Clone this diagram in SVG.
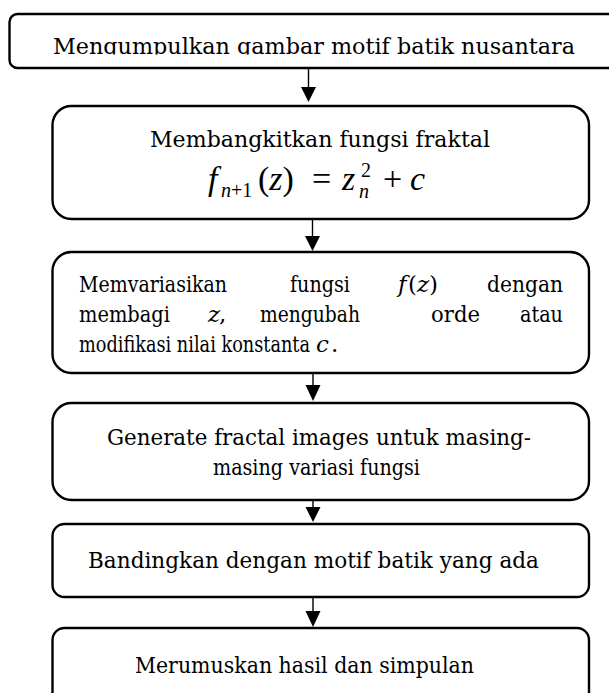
<svg xmlns="http://www.w3.org/2000/svg" width="609" height="693" viewBox="0 0 609 693">
<style>
.box{fill:#fff;stroke:#000;stroke-width:2.4}
.t{font-family:"DejaVu Serif","Liberation Serif",serif;font-size:23px;fill:#000}
.m{font-family:"Liberation Serif","Times New Roman",serif;fill:#000}
.i{font-style:italic}
.ln{stroke:#000;stroke-width:1.4;fill:none}
.ah{fill:#000}
</style>
<defs>
<clipPath id="clipTop"><rect x="0" y="0" width="609" height="54.5"/></clipPath>
</defs>
<rect width="609" height="693" fill="#fff"/>
<g id="node1">
<rect class="box" x="9.5" y="14" width="620" height="54" rx="8"/>
<text class="t" x="53" y="54" textLength="522" lengthAdjust="spacingAndGlyphs" clip-path="url(#clipTop)">Mengumpulkan gambar motif batik nusantara</text>
</g>
<g id="node2">
<rect class="box" x="52.5" y="106" width="536.5" height="113" rx="19"/>
<text class="t" x="150" y="147" textLength="340" lengthAdjust="spacingAndGlyphs">Membangkitkan fungsi fraktal</text>
<text class="m i" x="208" y="190" font-size="34">f</text>
<text class="m" x="221" y="197" font-size="20"><tspan class="i">n</tspan>+1</text>
<text class="m" x="258" y="190" font-size="34">(<tspan class="i">z</tspan>)</text>
<text class="m" x="312" y="190" font-size="34">=</text>
<text class="m i" x="342" y="190" font-size="34">z</text>
<text class="m" x="361" y="177" font-size="20">2</text>
<text class="m i" x="359" y="198" font-size="20">n</text>
<text class="m" x="383" y="190" font-size="34">+</text>
<text class="m i" x="410" y="190" font-size="34">c</text>
</g>
<g id="node3">
<rect class="box" x="52.5" y="252" width="536.5" height="121" rx="19"/>
<text class="t" x="79" y="292" textLength="148" lengthAdjust="spacingAndGlyphs">Memvariasikan</text>
<text class="t" x="290" y="292" textLength="60" lengthAdjust="spacingAndGlyphs">fungsi</text>
<text class="t i" x="398" y="292">f</text>
<text class="t" x="408" y="292">(</text>
<text class="t i" x="417" y="292">z</text>
<text class="t" x="429" y="292">)</text>
<text class="t" x="487" y="292" textLength="76" lengthAdjust="spacingAndGlyphs">dengan</text>
<text class="t" x="79" y="322" textLength="91" lengthAdjust="spacingAndGlyphs">membagi</text>
<text class="t i" x="208" y="322">z</text>
<text class="t" x="219" y="322">,</text>
<text class="t" x="260" y="322" textLength="100" lengthAdjust="spacingAndGlyphs">mengubah</text>
<text class="t" x="431" y="322" textLength="49" lengthAdjust="spacingAndGlyphs">orde</text>
<text class="t" x="520" y="322" textLength="43" lengthAdjust="spacingAndGlyphs">atau</text>
<text class="t" x="79" y="352" font-size="21" textLength="231" lengthAdjust="spacingAndGlyphs">modifikasi nilai konstanta</text>
<text class="t i" x="316" y="352">c</text>
<text class="t" x="331" y="352">.</text>
</g>
<g id="node4">
<rect class="box" x="52.5" y="403" width="536.5" height="97" rx="19"/>
<text class="t" x="107" y="445" textLength="424" lengthAdjust="spacingAndGlyphs">Generate fractal images untuk masing-</text>
<text class="t" x="213" y="475" textLength="207" lengthAdjust="spacingAndGlyphs">masing variasi fungsi</text>
</g>
<g id="node5">
<rect class="box" x="52.5" y="524" width="536.5" height="73" rx="12"/>
<text class="t" x="88" y="568" textLength="451" lengthAdjust="spacingAndGlyphs">Bandingkan dengan motif batik yang ada</text>
</g>
<g id="node6">
<rect class="box" x="52.5" y="628" width="536.5" height="80" rx="12"/>
<text class="t" x="135" y="673" textLength="339" lengthAdjust="spacingAndGlyphs">Merumuskan hasil dan simpulan</text>
</g>
<g id="connectors">
<line class="ln" x1="308.5" y1="68" x2="308.5" y2="88"/>
<polygon class="ah" points="301,87 316,87 308.5,102"/>
<line class="ln" x1="312.5" y1="219" x2="312.5" y2="237"/>
<polygon class="ah" points="305,236 320,236 312.5,251"/>
<line class="ln" x1="313" y1="373" x2="313" y2="386"/>
<polygon class="ah" points="305.5,385 320.5,385 313,401"/>
<line class="ln" x1="313" y1="500" x2="313" y2="508"/>
<polygon class="ah" points="305.5,507 320.5,507 313,522"/>
<line class="ln" x1="313" y1="597" x2="313" y2="612"/>
<polygon class="ah" points="305.5,611 320.5,611 313,627"/>
</g>
</svg>
